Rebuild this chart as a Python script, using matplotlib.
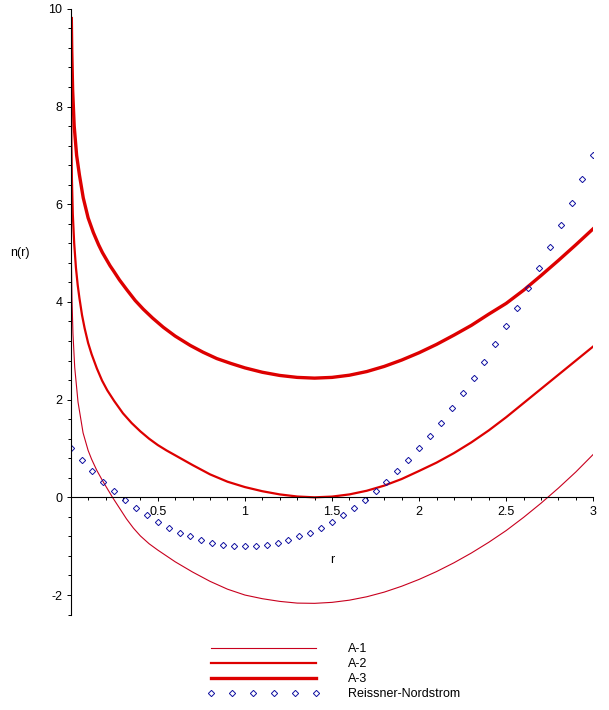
import matplotlib
matplotlib.use('Agg')
import matplotlib.pyplot as plt
from matplotlib.ticker import MultipleLocator, FixedLocator

plt.rcParams['font.family'] = ['Liberation Sans', 'DejaVu Sans']
plt.rcParams['axes.unicode_minus'] = False

# curves
a1_r = [0.0008, 0.002, 0.004, 0.0075, 0.013, 0.023, 0.042, 0.071, 0.1, 0.12, 0.15, 0.186,
        0.24, 0.28, 0.32, 0.36, 0.4, 0.45, 0.5, 0.6, 0.7, 0.8, 0.9, 1.0, 1.1, 1.2, 1.3,
        1.4, 1.5, 1.6, 1.7, 1.8, 1.9, 2.0, 2.1, 2.2, 2.3, 2.4, 2.5, 2.6, 2.7, 2.8, 2.9, 3.0]
a1_n = [7.4, 5.8, 4.85, 4.04, 3.35, 2.66, 1.95, 1.32, 0.96, 0.78, 0.55, 0.32,
        0.0, -0.22, -0.44, -0.63, -0.79, -0.95, -1.08, -1.32, -1.53, -1.72, -1.88, -2.0,
        -2.075, -2.13, -2.165, -2.17, -2.15, -2.105, -2.035, -1.94, -1.82, -1.68, -1.52,
        -1.34, -1.14, -0.92, -0.68, -0.41, -0.12, 0.19, 0.52, 0.88]

a2_r = [0.001, 0.002, 0.004, 0.007, 0.012, 0.02, 0.03, 0.04, 0.05, 0.065, 0.08, 0.1, 0.12,
        0.15, 0.18, 0.21, 0.25, 0.3, 0.35, 0.4, 0.45, 0.5, 0.55, 0.6, 0.7, 0.8, 0.9, 1.0,
        1.1, 1.2, 1.3, 1.4, 1.5, 1.6, 1.7, 1.8, 1.9, 2.0, 2.1, 2.2, 2.3, 2.4, 2.5, 2.6,
        2.7, 2.8, 2.9, 3.0]
a2_n = [9.1, 8.2, 7.3, 6.5, 5.8, 5.2, 4.70, 4.35, 4.08, 3.73, 3.46, 3.16, 2.93,
        2.64, 2.39, 2.19, 1.97, 1.72, 1.52, 1.35, 1.20, 1.07, 0.96, 0.86, 0.66, 0.47,
        0.32, 0.21, 0.125, 0.06, 0.017, 0.0, 0.015, 0.06, 0.135, 0.24, 0.375, 0.54, 0.71,
        0.905, 1.125, 1.37, 1.64, 1.93, 2.22, 2.51, 2.80, 3.09]

a3_r = [0.0035, 0.006, 0.011, 0.02, 0.034, 0.05, 0.072, 0.1, 0.13, 0.16, 0.182, 0.226,
        0.245, 0.28, 0.322, 0.37, 0.417, 0.47, 0.532, 0.6, 0.686, 0.76, 0.839, 0.92, 1.0,
        1.1, 1.2, 1.3, 1.4, 1.5, 1.6, 1.7, 1.8, 1.9, 2.0, 2.1, 2.2, 2.3, 2.4, 2.5, 2.6,
        2.7, 2.8, 2.9, 3.0]
a3_n = [9.8, 9.15, 8.35, 7.6, 7.0, 6.6, 6.13, 5.72, 5.42, 5.17, 5.01, 4.74,
        4.64, 4.45, 4.25, 4.03, 3.85, 3.67, 3.48, 3.30, 3.11, 2.97, 2.84, 2.74, 2.65,
        2.56, 2.495, 2.455, 2.44, 2.455, 2.50, 2.575, 2.68, 2.81, 2.96, 3.13, 3.32, 3.52,
        3.75, 3.97, 4.24, 4.54, 4.85, 5.17, 5.50]

# Reissner-Nordstrom points
rn_r = [0, 0.0625, 0.125, 0.1875, 0.25, 0.3125, 0.375, 0.4375, 0.5, 0.5625, 0.625, 0.6875,
        0.75, 0.8125, 0.875, 0.9375, 1.0, 1.0625, 1.125, 1.1875, 1.25, 1.3125, 1.375, 1.4375,
        1.5, 1.5625, 1.625, 1.6875, 1.75, 1.8125, 1.875, 1.9375, 2.0, 2.0625, 2.125, 2.1875,
        2.25, 2.3125, 2.375, 2.4375, 2.5, 2.5625, 2.625, 2.6875, 2.75, 2.8125, 2.875, 2.9375, 3.0]
rn_n = [1.00, 0.76, 0.53, 0.32, 0.13, -0.06, -0.22, -0.37, -0.50, -0.62, -0.72, -0.80,
        -0.88, -0.93, -0.97, -0.99, -1.00, -0.99, -0.97, -0.93, -0.88, -0.80, -0.72, -0.62,
        -0.50, -0.37, -0.22, -0.06, 0.13, 0.32, 0.53, 0.76, 1.00, 1.26, 1.53, 1.82,
        2.13, 2.45, 2.78, 3.13, 3.50, 3.88, 4.28, 4.70, 5.13, 5.57, 6.03, 6.51, 7.00]

fig = plt.figure(figsize=(6.09, 7.10), dpi=100)
ax = fig.add_axes([0.1161, 0.1344, 0.8581, 0.8532])

l1, = ax.plot(a1_r, a1_n, color='#c8001e', lw=0.8, label='A-1')
l2, = ax.plot(a2_r, a2_n, color='#dd0000', lw=1.6, label='A-2')
l3, = ax.plot(a3_r, a3_n, color='#dd0000', lw=2.4, label='A-3')
l4, = ax.plot(rn_r, rn_n, ls='none', marker='D', ms=3.2, mfc='none', mec='#1010a0',
              mew=0.7, label='Reissner-Nordstrom')

ax.set_xlim(0, 3)
ax.set_ylim(-2.4, 10)

for s in ['top', 'right']:
    ax.spines[s].set_visible(False)
ax.spines['left'].set_position(('data', 0))
ax.spines['bottom'].set_position(('data', 0))
ax.spines['left'].set_linewidth(0.8)
ax.spines['bottom'].set_linewidth(0.8)

ax.xaxis.set_major_locator(FixedLocator([0.5, 1, 1.5, 2, 2.5, 3]))
ax.xaxis.set_minor_locator(MultipleLocator(0.1))
ax.set_xticklabels(['0.5', '1', '1.5', '2', '2.5', '3'])
ax.yaxis.set_major_locator(FixedLocator([-2, 0, 2, 4, 6, 8, 10]))
ax.yaxis.set_minor_locator(MultipleLocator(0.4))
ax.tick_params(which='major', length=3, width=0.7, labelsize=9, pad=3)
ax.tick_params(which='minor', length=2.2, width=0.7)

ax.text(1.5, -1.28, 'r', fontsize=9, ha='center', va='center')
fig.text(20 / 609, 1 - 253 / 710, 'n(r)', fontsize=9, ha='center', va='center')

fig.legend(handles=[l1, l2, l3, l4], loc='upper left',
           bbox_to_anchor=(207.25 / 609, 1 - 643 / 710), frameon=False,
           fontsize=9, handlelength=9.0, handletextpad=2.26, labelspacing=0.25,
           borderpad=0, borderaxespad=0, numpoints=6)

fig.savefig('out.png', dpi=100)
